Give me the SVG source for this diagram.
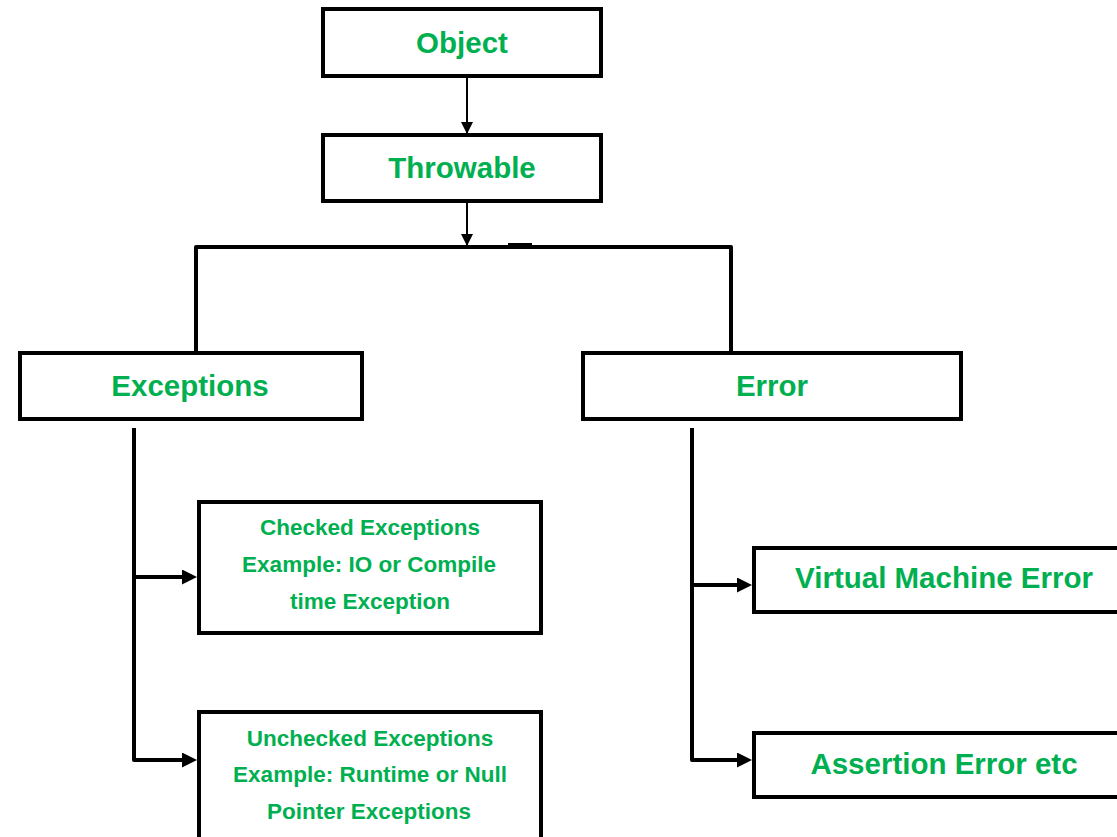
<svg xmlns="http://www.w3.org/2000/svg" width="1117" height="837" viewBox="0 0 1117 837">
  <style>
    .box { fill: #ffffff; stroke: #000000; stroke-width: 4; }
    .label { font-family: "Liberation Sans", Arial, sans-serif; font-weight: bold; fill: #00B050; text-anchor: middle; }
    .big { font-size: 29.5px; }
    .small { font-size: 22.5px; }
    .thin { fill: none; stroke: #000000; stroke-width: 2; }
    .thick { fill: none; stroke: #000000; stroke-width: 4; stroke-linejoin: round; }
  </style>
  <defs>
    <marker id="headDown" markerUnits="userSpaceOnUse" markerWidth="12" markerHeight="12" refX="6" refY="12" orient="0" viewBox="0 0 12 12">
      <path d="M0,0 L12,0 L6,12 Z" fill="#000000"/>
    </marker>
    <!-- tip sits 15px past the end of the line it is attached to -->
    <marker id="headRight" markerUnits="userSpaceOnUse" markerWidth="15" markerHeight="15" refX="0" refY="7.5" orient="0" viewBox="0 0 15 15">
      <path d="M0,0 L15,7.5 L0,15 Z" fill="#000000"/>
    </marker>
  </defs>

  <rect width="1117" height="837" fill="#ffffff"/>

  <!-- connectors -->
  <g id="connectors">
    <line class="thin" x1="467" y1="78" x2="467" y2="134" marker-end="url(#headDown)"/>
    <line class="thin" x1="467" y1="203" x2="467" y2="246" marker-end="url(#headDown)"/>
    <path class="thick" d="M196,352 L196,247 L731,247 L731,352"/>
    <rect x="508" y="243" width="24" height="5" fill="#000000"/>
    <!-- Exceptions branches -->
    <path class="thick" d="M134,428 L134,760 L182,760" marker-end="url(#headRight)"/>
    <line class="thick" x1="134" y1="577" x2="182" y2="577" marker-end="url(#headRight)"/>
    <!-- Error branches -->
    <path class="thick" d="M692,428 L692,760 L737,760" marker-end="url(#headRight)"/>
    <line class="thick" x1="692" y1="585" x2="737" y2="585" marker-end="url(#headRight)"/>
  </g>

  <g id="object">
    <rect class="box" x="323" y="9" width="278" height="67"/>
    <text class="label big" x="462" y="53">Object</text>
  </g>

  <g id="throwable">
    <rect class="box" x="323" y="135" width="278" height="66"/>
    <text class="label big" x="462" y="178">Throwable</text>
  </g>

  <g id="exceptions">
    <rect class="box" x="20" y="353" width="342" height="66"/>
    <text class="label big" x="190" y="396">Exceptions</text>
  </g>

  <g id="error">
    <rect class="box" x="583" y="353" width="378" height="66"/>
    <text class="label big" x="772" y="396">Error</text>
  </g>

  <g id="checked">
    <rect class="box" x="199" y="502" width="342" height="131"/>
    <text class="label small" x="370" y="535">Checked Exceptions</text>
    <text class="label small" x="369" y="572">Example: IO or Compile</text>
    <text class="label small" x="370" y="609">time Exception</text>
  </g>

  <g id="unchecked">
    <rect class="box" x="199" y="712" width="342" height="140"/>
    <text class="label small" x="370" y="746">Unchecked Exceptions</text>
    <text class="label small" x="370" y="782">Example: Runtime or Null</text>
    <text class="label small" x="369" y="819">Pointer Exceptions</text>
  </g>

  <g id="vm-error">
    <rect class="box" x="754" y="548" width="400" height="64"/>
    <text class="label big" x="944" y="588">Virtual Machine Error</text>
  </g>

  <g id="assertion-error">
    <rect class="box" x="754" y="733" width="400" height="64"/>
    <text class="label big" x="944" y="774">Assertion Error etc</text>
  </g>
</svg>
